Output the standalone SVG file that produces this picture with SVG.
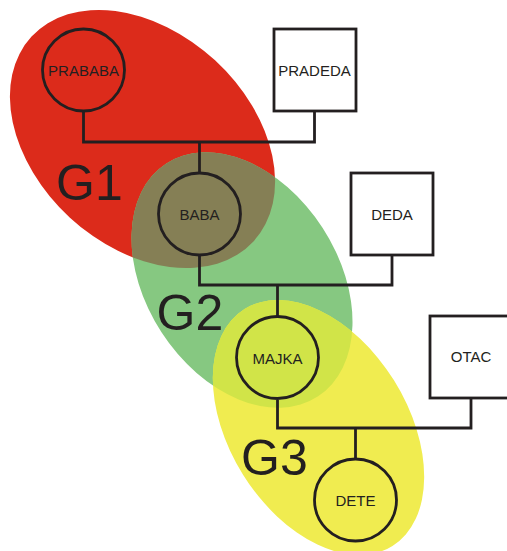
<svg xmlns="http://www.w3.org/2000/svg" width="507" height="551" viewBox="0 0 507 551">
<style>
.ln{fill:none;stroke:#231F20;stroke-width:2.8}
.nd{stroke:#231F20;stroke-width:2.8}
.lbl{font-family:"Liberation Sans",Arial,sans-serif;font-size:15px;fill:#231F20;text-anchor:middle}
.gen{font-family:"Liberation Sans",Arial,sans-serif;font-size:50px;fill:#231F20}
</style>
<defs>
<ellipse id="eRed" cx="142.5" cy="139" rx="151" ry="107" transform="rotate(42.7 142.5 139)"/>
<ellipse id="eGreen" cx="242" cy="280" rx="139" ry="96" transform="rotate(57 242 280)"/>
<ellipse id="eYellow" cx="318.5" cy="427.5" rx="139.6" ry="89" transform="rotate(58 318.5 427.5)"/>
<clipPath id="cRed"><use href="#eRed"/></clipPath>
<clipPath id="cGreen"><use href="#eGreen"/></clipPath>
</defs>
<g id="generations">
<use href="#eRed" fill="#DC2B1B"/>
<use href="#eGreen" fill="#86C881"/>
<use href="#eGreen" fill="#857F55" clip-path="url(#cRed)"/>
<use href="#eYellow" fill="#F0EC50"/>
<use href="#eYellow" fill="#D1E448" clip-path="url(#cGreen)"/>
<text class="gen" x="56" y="199.5">G1</text>
<text class="gen" x="156.5" y="330">G2</text>
<text class="gen" x="241" y="475">G3</text>
</g>
<g id="connectors">
<polyline class="ln" points="83.5,112 83.5,142 314.5,142 314.5,112"/>
<line class="ln" x1="199.5" y1="142" x2="199.5" y2="172"/>
<polyline class="ln" points="199.5,256 199.5,285 392,285 392,256"/>
<line class="ln" x1="277.5" y1="285" x2="277.5" y2="316"/>
<polyline class="ln" points="277.5,400 277.5,428 471,428 471,398"/>
<line class="ln" x1="355.5" y1="428" x2="355.5" y2="458"/>
</g>
<g id="prababa"><circle class="nd" cx="83.5" cy="70" r="41" fill="none"/><text class="lbl" x="83.5" y="76">PRABABA</text></g>
<g id="pradeda"><rect class="nd" x="274" y="29" width="82" height="82" fill="#fff"/><text class="lbl" x="314.5" y="76">PRADEDA</text></g>
<g id="baba"><circle class="nd" cx="199.5" cy="214" r="41" fill="none"/><text class="lbl" x="199.5" y="220">BABA</text></g>
<g id="deda"><rect class="nd" x="351" y="173" width="82" height="82" fill="#fff"/><text class="lbl" x="392" y="220">DEDA</text></g>
<g id="majka"><circle class="nd" cx="277.5" cy="357.5" r="41" fill="none"/><text class="lbl" x="277.5" y="363.5">MAJKA</text></g>
<g id="otac"><rect class="nd" x="430" y="316" width="82" height="82" fill="#fff"/><text class="lbl" x="471" y="362">OTAC</text></g>
<g id="dete"><circle class="nd" cx="355.5" cy="500" r="41" fill="none"/><text class="lbl" x="355.5" y="506">DETE</text></g>
</svg>
